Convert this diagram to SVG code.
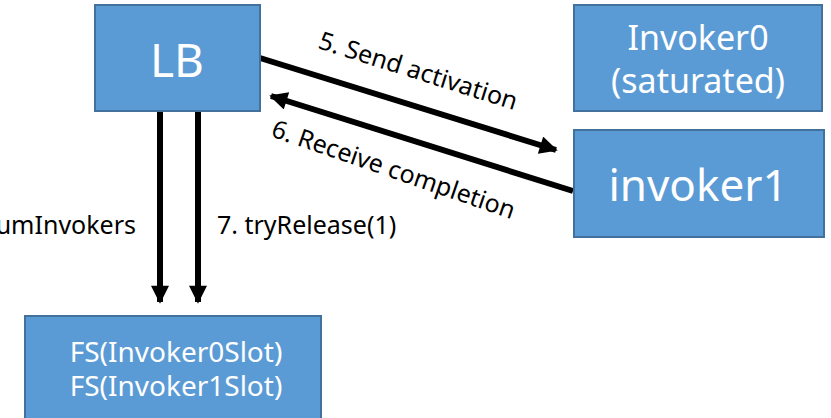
<svg xmlns="http://www.w3.org/2000/svg" width="831" height="418" viewBox="0 0 831 418">
<style>
.box{fill:#5b9bd5;stroke:#41719c;stroke-width:2}
.bt{fill:#fff;font-family:"Noto Sans","DejaVu Sans",sans-serif;text-anchor:middle}
.lbl{fill:#000;font-family:"Noto Sans","DejaVu Sans",sans-serif;font-size:25px}
.conn{stroke:#000;stroke-width:6;fill:none}
</style>
<defs>
<marker id="ah" viewBox="0 0 10 10" refX="9" refY="5" markerWidth="3.2" markerHeight="3" markerUnits="strokeWidth" orient="auto">
<path d="M0,0 L10,5 L0,10 z" fill="#000"/>
</marker>
</defs>
<rect width="831" height="418" fill="#fff"/>
<g id="connectors">
<line class="conn" x1="260" y1="58" x2="556" y2="150" marker-end="url(#ah)"/>
<line class="conn" x1="573" y1="191" x2="271" y2="96" marker-end="url(#ah)"/>
<line class="conn" x1="160" y1="111" x2="160" y2="302" marker-end="url(#ah)"/>
<line class="conn" x1="198" y1="111" x2="198" y2="302" marker-end="url(#ah)"/>
<text class="lbl" font-size="26" transform="translate(317,48) rotate(17.5)">5. Send activation</text>
<text class="lbl" font-size="26" transform="translate(270,136) rotate(19)">6. Receive completion</text>
<text class="lbl" x="136" y="234" text-anchor="end">numInvokers</text>
<text class="lbl" x="217" y="234">7. tryRelease(1)</text>
</g>
<g id="LB">
<rect class="box" x="95" y="5" width="165" height="106"/>
<text class="bt" x="177" y="77" font-size="46">LB</text>
</g>
<g id="Invoker0">
<rect class="box" x="574" y="5" width="248" height="106"/>
<text class="bt" font-size="34"><tspan x="698" y="50">Invoker0</tspan><tspan x="698" y="93">(saturated)</tspan></text>
</g>
<g id="invoker1">
<rect class="box" x="574" y="130" width="250" height="107"/>
<text class="bt" x="698" y="201" font-size="44">invoker1</text>
</g>
<g id="FS">
<rect class="box" x="25" y="316" width="296" height="110"/>
<text class="bt" font-size="28"><tspan x="176" y="362">FS(Invoker0Slot)</tspan><tspan x="176" y="396">FS(Invoker1Slot)</tspan></text>
</g>
</svg>
